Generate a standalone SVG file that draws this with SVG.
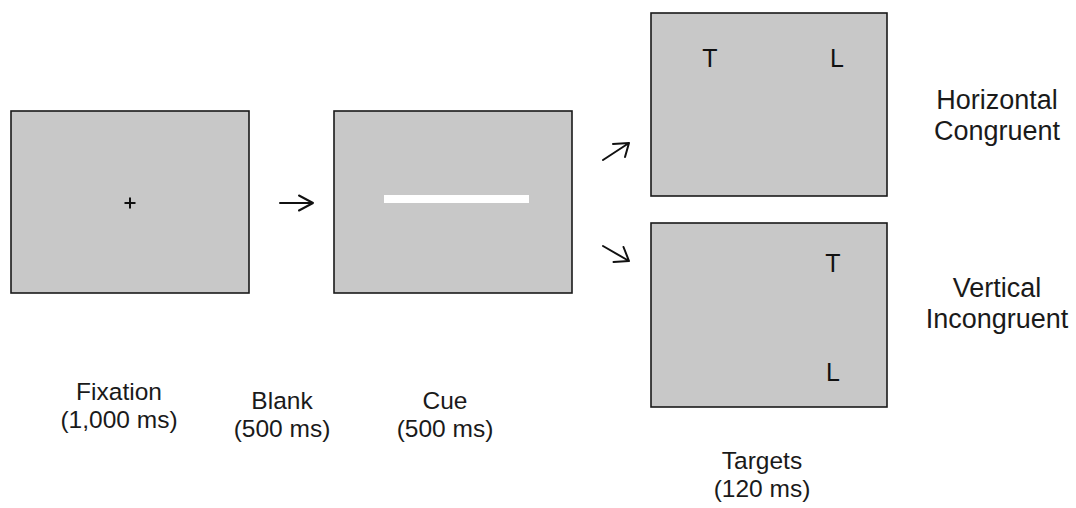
<svg xmlns="http://www.w3.org/2000/svg" width="1076" height="508" viewBox="0 0 1076 508">
  <style>
    .screen { fill: #c8c8c8; stroke: #1a1a1a; stroke-width: 1.6; }
    .lbl { font-family: "Liberation Sans", Arial, sans-serif; font-size: 24.5px; fill: #1a1a1a; text-anchor: middle; }
    .cond { font-family: "Liberation Sans", Arial, sans-serif; font-size: 27px; fill: #1a1a1a; text-anchor: middle; }
    .letter { font-family: "Liberation Sans", Arial, sans-serif; font-size: 25px; fill: #111; text-anchor: middle; }
    .arrow { fill: none; stroke: #111; stroke-width: 2; stroke-linecap: round; stroke-linejoin: round; }
  </style>

  <!-- Fixation screen -->
  <g id="fixation">
    <rect class="screen" x="11" y="111" width="238" height="182"/>
    <path d="M124.5 203 H135.5 M130 197.5 V208.5" stroke="#111" stroke-width="2" fill="none"/>
    <text class="lbl" x="119" y="400">Fixation</text>
    <text class="lbl" x="119" y="427.5">(1,000 ms)</text>
  </g>

  <!-- Blank interval -->
  <g id="blank">
    <text class="lbl" x="282" y="409">Blank</text>
    <text class="lbl" x="282" y="436.5">(500 ms)</text>
  </g>

  <!-- Cue screen -->
  <g id="cue">
    <rect class="screen" x="334" y="111" width="238" height="182"/>
    <rect x="384" y="195" width="145" height="8" fill="#ffffff"/>
    <text class="lbl" x="445" y="409">Cue</text>
    <text class="lbl" x="445" y="436.5">(500 ms)</text>
  </g>

  <!-- Target screen: horizontal congruent -->
  <g id="target-horizontal">
    <rect class="screen" x="651" y="13" width="236" height="183"/>
    <text class="letter" x="710" y="67">T</text>
    <text class="letter" x="837" y="67">L</text>
    <text class="cond" x="997" y="109">Horizontal</text>
    <text class="cond" x="997" y="140">Congruent</text>
  </g>

  <!-- Target screen: vertical incongruent -->
  <g id="target-vertical">
    <rect class="screen" x="651" y="223" width="236" height="184"/>
    <text class="letter" x="833" y="272">T</text>
    <text class="letter" x="833" y="381">L</text>
    <text class="cond" x="997" y="297">Vertical</text>
    <text class="cond" x="997" y="328">Incongruent</text>
  </g>

  <!-- Targets label -->
  <g id="targets">
    <text class="lbl" x="762" y="469">Targets</text>
    <text class="lbl" x="762" y="496.5">(120 ms)</text>
  </g>

  <!-- Sequence arrows -->
  <g id="connectors">
    <path class="arrow" d="M280 203 H313 M299 195.5 L313 203 L299 210.5"/>
    <path class="arrow" d="M603 160 L629 143 M613 144 L629 143 L625 157"/>
    <path class="arrow" d="M603 246 L629 261 M623.5 247 L629 261 L613.5 262"/>
  </g>
</svg>
